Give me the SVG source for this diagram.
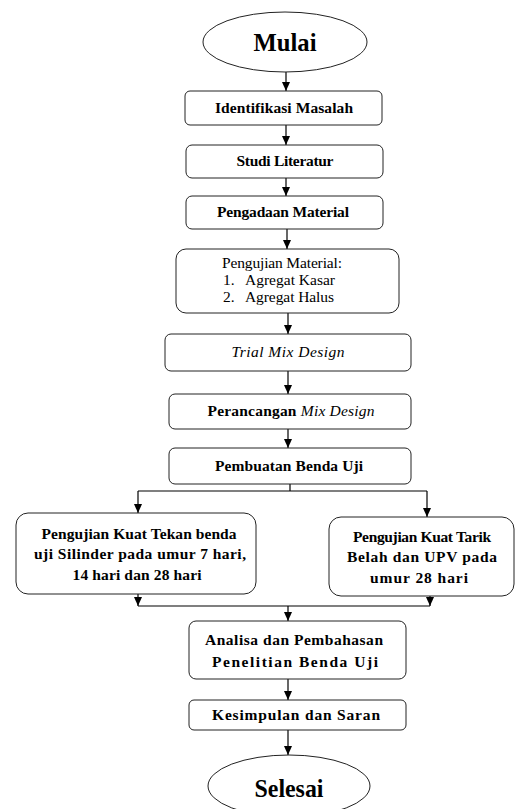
<svg xmlns="http://www.w3.org/2000/svg" width="515" height="809" viewBox="0 0 515 809">
<style>
.box{fill:#fff;stroke:#222;stroke-width:1}
.t{font-family:'Liberation Serif','Times New Roman',serif;font-size:15.5px;fill:#000;text-anchor:middle}
.b{font-weight:bold}
.big{font-size:25px;font-weight:bold}
.c{fill:none;stroke:#000;stroke-width:1.2}
</style>
<defs>
<marker id="ah" markerUnits="userSpaceOnUse" markerWidth="9" markerHeight="8" refX="9" refY="4" orient="auto">
<path d="M0,0 L9,4 L0,8 z" fill="#000"/>
</marker>
</defs>
<rect width="515" height="809" fill="#fff"/>
<g id="connectors">
<path class="c" d="M286,72 V91" marker-end="url(#ah)"/>
<path class="c" d="M286,125 V145" marker-end="url(#ah)"/>
<path class="c" d="M286,178 V196" marker-end="url(#ah)"/>
<path class="c" d="M287,229 V249" marker-end="url(#ah)"/>
<path class="c" d="M288,313 V334" marker-end="url(#ah)"/>
<path class="c" d="M288,371 V394" marker-end="url(#ah)"/>
<path class="c" d="M288,429 V448" marker-end="url(#ah)"/>
<path class="c" d="M290,484 V491 M138,491 H427"/>
<path class="c" d="M138,491 V513" marker-end="url(#ah)"/>
<path class="c" d="M427,491 V517" marker-end="url(#ah)"/>
<path class="c" d="M138,594 V606" marker-end="url(#ah)"/>
<path class="c" d="M430,596 V606" marker-end="url(#ah)"/>
<path class="c" d="M138,606 H430"/>
<path class="c" d="M288,606 V621" marker-end="url(#ah)"/>
<path class="c" d="M288,679 V700" marker-end="url(#ah)"/>
<path class="c" d="M288,730 V755" marker-end="url(#ah)"/>
</g>
<g id="mulai">
<ellipse class="box" cx="285" cy="42" rx="82" ry="30"/>
<text class="t big" x="285" y="51" textLength="63" lengthAdjust="spacingAndGlyphs">Mulai</text>
</g>
<g id="identifikasi">
<rect class="box" x="185" y="91" width="197" height="34" rx="5"/>
<text class="t b" x="284" y="113" textLength="138">Identifikasi Masalah</text>
</g>
<g id="studi">
<rect class="box" x="186" y="145" width="197" height="33" rx="6"/>
<text class="t b" x="285" y="166" textLength="97">Studi Literatur</text>
</g>
<g id="pengadaan">
<rect class="box" x="186" y="196" width="197" height="33" rx="6"/>
<text class="t b" x="283" y="217" textLength="132">Pengadaan Material</text>
</g>
<g id="pengujian-material">
<rect class="box" x="176" y="249" width="223" height="64" rx="10"/>
<text class="t" x="282" y="268" textLength="120">Pengujian Material:</text>
<text class="t" x="223" y="285" style="text-anchor:start">1.</text>
<text class="t" x="245" y="285" style="text-anchor:start" textLength="90">Agregat Kasar</text>
<text class="t" x="223" y="302" style="text-anchor:start">2.</text>
<text class="t" x="245" y="302" style="text-anchor:start" textLength="89">Agregat Halus</text>
</g>
<g id="trial">
<rect class="box" x="165" y="334" width="246" height="37" rx="6"/>
<text class="t" x="288" y="357" font-style="italic" textLength="113">Trial Mix Design</text>
</g>
<g id="perancangan">
<rect class="box" x="169" y="394" width="242" height="35" rx="6"/>
<text class="t" x="291" y="416" textLength="167"><tspan class="b">Perancangan </tspan><tspan font-style="italic">Mix Design</tspan></text>
</g>
<g id="pembuatan">
<rect class="box" x="169" y="448" width="242" height="36" rx="6"/>
<text class="t b" x="289" y="471" textLength="148">Pembuatan Benda Uji</text>
</g>
<g id="kuat-tekan">
<rect class="box" x="16" y="513" width="240" height="81" rx="12"/>
<text class="t b" x="139" y="539" textLength="195">Pengujian Kuat Tekan benda</text>
<text class="t b" x="140" y="559" textLength="212">uji Silinder pada umur 7 hari,</text>
<text class="t b" x="137" y="580" textLength="129">14 hari dan 28 hari</text>
</g>
<g id="kuat-tarik">
<rect class="box" x="329" y="517" width="185" height="79" rx="12"/>
<text class="t b" x="422" y="542" textLength="138">Pengujian Kuat Tarik</text>
<text class="t b" x="422" y="562" textLength="150">Belah dan UPV pada</text>
<text class="t b" x="419" y="583" textLength="98">umur 28 hari</text>
</g>
<g id="analisa">
<rect class="box" x="189" y="621" width="217" height="58" rx="7"/>
<text class="t b" x="294" y="645" textLength="178">Analisa dan Pembahasan</text>
<text class="t b" x="295" y="667" textLength="166">Penelitian Benda Uji</text>
</g>
<g id="kesimpulan">
<rect class="box" x="189" y="700" width="217" height="30" rx="5"/>
<text class="t b" x="296" y="720" textLength="168">Kesimpulan dan Saran</text>
</g>
<g id="selesai">
<ellipse class="box" cx="289" cy="786" rx="81" ry="31"/>
<text class="t big" x="289" y="797" textLength="69" lengthAdjust="spacingAndGlyphs">Selesai</text>
</g>
</svg>
